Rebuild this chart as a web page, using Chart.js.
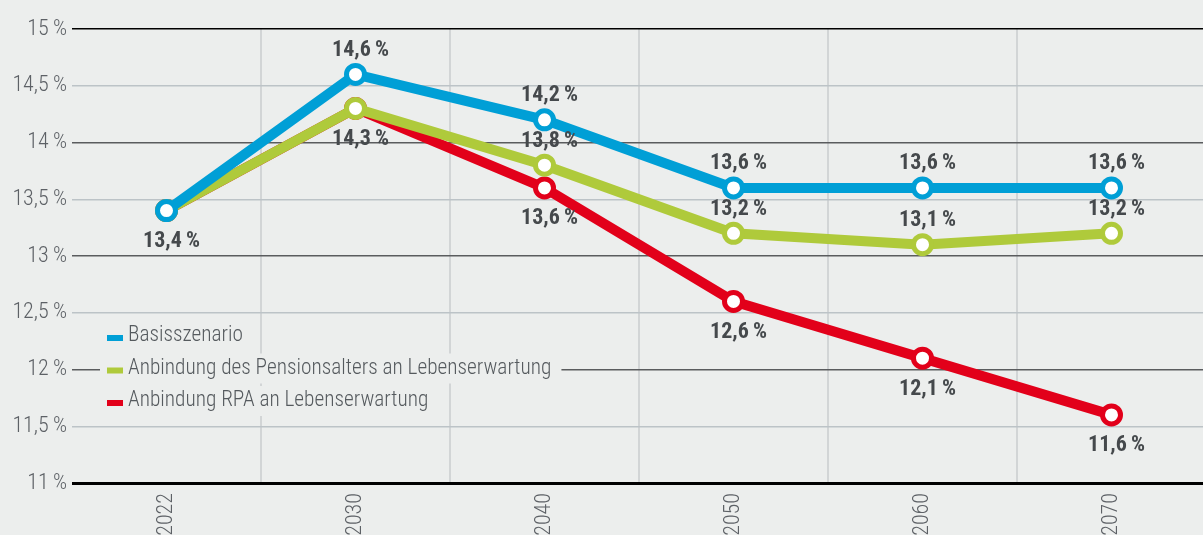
<!DOCTYPE html>
<html><head><meta charset="utf-8">
<script src="https://cdn.jsdelivr.net/npm/chart.js@4.4.0/dist/chart.umd.min.js"></script>
<style>html,body{margin:0;padding:0;background:#eceeed;overflow:hidden;width:1203px;height:535px}
#wrap{position:absolute;left:0;top:0;width:1220px;height:535px}</style>
</head><body>
<div id="wrap"><canvas id="c" width="1220" height="535"></canvas></div>
<script>
const categories = ['2022','2030','2040','2050','2060','2070'];
const basis = [13.4, 14.6, 14.2, 13.6, 13.6, 13.6];
const pensionsalter = [13.4, 14.3, 13.8, 13.2, 13.1, 13.2];
const rpa = [13.4, 14.3, 13.6, 12.6, 12.1, 11.6];
const seriesNames = ['Basisszenario','Anbindung des Pensionsalters an Lebenserwartung','Anbindung RPA an Lebenserwartung'];
const yTicks = [11, 11.5, 12, 12.5, 13, 13.5, 14, 14.5, 15];

// label placement: 'a' above, 'b' below, '' none
const labelPlace = [
  ['b','a','a','a','a','a'],
  ['','b','a','a','a','a'],
  ['','','b','b','b','b']
];
const colors = ['#009fd6','#afca3b','#e2001a'];
const FONT = '"Roboto Condensed","DejaVu Sans Condensed",Roboto,sans-serif';
const fmt = (v, sp) => v.toLocaleString('de-DE',{maximumFractionDigits:1}) + (sp || '\u2009') + '%';

const legendPlugin = {
  id:'insideLegend',
  beforeDatasetsDraw(chart){
    const ctx=chart.ctx;
    ctx.save();
    ctx.font='300 21.3px '+FONT;
    ctx.textBaseline='middle';
    const x0=107, y0=336, dy=32.5;
    seriesNames.forEach((n,i)=>{
      const y=y0+i*dy;
      const w=ctx.measureText(n).width;
      ctx.fillStyle='#eceeed';
      ctx.fillRect(x0-7, y-15, 21+w+17, 30);
      ctx.fillStyle=colors[i];
      ctx.fillRect(x0, y-1, 16, 6);
      ctx.fillStyle='#555a5e';
      ctx.fillText(n, x0+21, y);
    });
    ctx.restore();
  }
};
const labelPlugin = {
  id:'valueLabels',
  afterDatasetsDraw(chart){
    const ctx=chart.ctx;
    ctx.save();
    ctx.font='bold 22px '+FONT;
    ctx.textAlign='center';
    ctx.textBaseline='middle';
    ctx.fillStyle='#45494c';
    chart.data.datasets.forEach((ds,di)=>{
      const meta=chart.getDatasetMeta(di);
      meta.data.forEach((pt,i)=>{
        const p=labelPlace[di][i];
        if(!p) return;
        const y = p==='a' ? pt.y-24 : pt.y+31;
        ctx.fillText(fmt(ds.data[i]), pt.x+5, y);
      });
    });
    ctx.restore();
  }
};

const datasets=[basis,pensionsalter,rpa].map((d,i)=>({
  label:seriesNames[i], data:d, borderColor:colors[i], backgroundColor:colors[i],
  borderWidth:10, pointRadius:9, pointHoverRadius:9, pointBorderWidth:5,
  pointBackgroundColor:'#ffffff', pointBorderColor:colors[i], tension:0, clip:false
}));

new Chart(document.getElementById('c'),{
  type:'line',
  data:{labels:categories, datasets},
  plugins:[legendPlugin,labelPlugin],
  options:{
    responsive:false, animation:false,
    layout:{padding:{top:29,right:0,left:0,bottom:0}},
    plugins:{legend:{display:false},tooltip:{enabled:false}},
    scales:{
      x:{
        offset:true,
        grid:{offset:true, drawTicks:false, color:c=>c.index===0?'rgba(0,0,0,0)':'#d2d5d6', lineWidth:2},
        border:{display:false},
        ticks:{maxRotation:90,minRotation:90,padding:10,color:'#5d6166',font:{family:FONT,size:22,weight:'300'}},
        afterFit(s){s.height=52;}
      },
      y:{
        min:11,max:15,
        afterBuildTicks(s){s.ticks=yTicks.map(v=>({value:v}));},
        grid:{drawTicks:false,
          color:c=>{const v=c.tick.value; if(v===11||v===15) return '#000'; return Number.isInteger(v)?'#5a5c5e':'#bcc3c7';},
          lineWidth:c=>{const v=c.tick.value; if(v===11) return 3; return 1.5;}},
        border:{display:false},
        ticks:{padding:5,color:'#5d6166',font:{family:FONT,size:22,weight:'300'},callback:v=>fmt(v,'\u2009')},
        afterFit(s){s.width=72;}
      }
    }
  }
});
</script>
</body></html>
